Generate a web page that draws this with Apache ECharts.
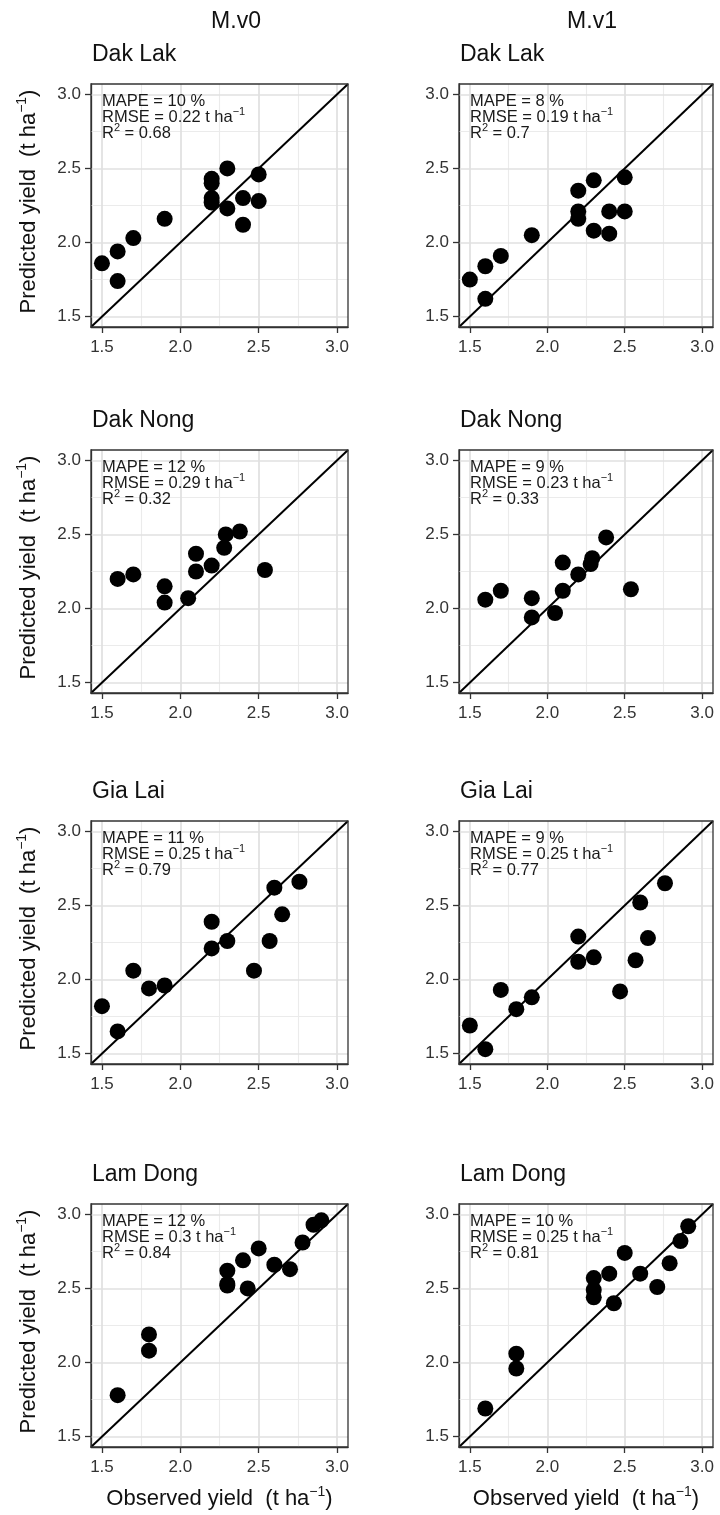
<!DOCTYPE html>
<html><head><meta charset="utf-8">
<script src="https://cdn.jsdelivr.net/npm/echarts@6/dist/echarts.min.js"></script>
<style>html,body{margin:0;padding:0;background:#fff}#c{width:720px;height:1515px}</style>
</head><body><div id="c"></div>
<script>
// ---------- data ----------
const provinces = ['Dak Lak', 'Dak Nong', 'Gia Lai', 'Lam Dong'];
const models = ['M.v0', 'M.v1'];
const tickValues = [1.5, 2.0, 2.5, 3.0];
const minorValues = [1.75, 2.25, 2.75];
const axisRange = [1.43, 3.07];

const dakLakV0Obs  = [1.5, 1.6, 1.6, 1.7, 1.9, 2.2, 2.2, 2.2, 2.2, 2.3, 2.3, 2.4, 2.4, 2.5, 2.5];
const dakLakV0Pred = [1.86, 1.94, 1.74, 2.03, 2.16, 2.43, 2.40, 2.30, 2.27, 2.50, 2.23, 2.30, 2.12, 2.46, 2.28];
const dakLakV1Obs  = [1.5, 1.6, 1.6, 1.7, 1.9, 2.2, 2.2, 2.2, 2.3, 2.3, 2.4, 2.4, 2.5, 2.5];
const dakLakV1Pred = [1.75, 1.84, 1.62, 1.91, 2.05, 2.35, 2.21, 2.16, 2.42, 2.08, 2.21, 2.06, 2.44, 2.21];

const dakNongV0Obs  = [1.6, 1.7, 1.9, 1.9, 2.05, 2.1, 2.1, 2.2, 2.28, 2.29, 2.38, 2.54];
const dakNongV0Pred = [2.20, 2.23, 2.15, 2.04, 2.07, 2.25, 2.37, 2.29, 2.41, 2.50, 2.52, 2.26];
const dakNongV1Obs  = [1.6, 1.7, 1.9, 1.9, 2.05, 2.1, 2.1, 2.2, 2.28, 2.29, 2.38, 2.54];
const dakNongV1Pred = [2.06, 2.12, 2.07, 1.94, 1.97, 2.31, 2.12, 2.23, 2.30, 2.34, 2.48, 2.13];

const giaLaiV0Obs  = [1.5, 1.6, 1.7, 1.8, 1.9, 2.2, 2.2, 2.3, 2.47, 2.57, 2.6, 2.65, 2.76];
const giaLaiV0Pred = [1.82, 1.65, 2.06, 1.94, 1.96, 2.39, 2.21, 2.26, 2.06, 2.26, 2.62, 2.44, 2.66];
const giaLaiV1Obs  = [1.5, 1.6, 1.7, 1.8, 1.9, 2.2, 2.2, 2.3, 2.47, 2.57, 2.6, 2.65, 2.76];
const giaLaiV1Pred = [1.69, 1.53, 1.93, 1.80, 1.88, 2.29, 2.12, 2.15, 1.92, 2.13, 2.52, 2.28, 2.65];

const lamDongV0Obs  = [1.6, 1.8, 1.8, 2.3, 2.3, 2.3, 2.4, 2.43, 2.5, 2.6, 2.7, 2.78, 2.85, 2.9];
const lamDongV0Pred = [1.78, 2.19, 2.08, 2.62, 2.53, 2.52, 2.69, 2.50, 2.77, 2.66, 2.63, 2.81, 2.93, 2.96];
const lamDongV1Obs  = [1.6, 1.8, 1.8, 2.3, 2.3, 2.3, 2.4, 2.43, 2.5, 2.6, 2.71, 2.79, 2.86, 2.91];
const lamDongV1Pred = [1.69, 2.06, 1.96, 2.57, 2.49, 2.44, 2.60, 2.40, 2.74, 2.60, 2.51, 2.67, 2.82, 2.92];

const mapeV0 = ['10', '12', '11', '12'];
const rmseV0 = ['0.22', '0.29', '0.25', '0.3'];
const r2V0   = ['0.68', '0.32', '0.79', '0.84'];
const mapeV1 = ['8', '9', '9', '10'];
const rmseV1 = ['0.19', '0.23', '0.25', '0.25'];
const r2V1   = ['0.7', '0.33', '0.77', '0.81'];

// ---------- assembly ----------
const obsTable = [[dakLakV0Obs, dakLakV1Obs], [dakNongV0Obs, dakNongV1Obs], [giaLaiV0Obs, giaLaiV1Obs], [lamDongV0Obs, lamDongV1Obs]];
const predTable = [[dakLakV0Pred, dakLakV1Pred], [dakNongV0Pred, dakNongV1Pred], [giaLaiV0Pred, giaLaiV1Pred], [lamDongV0Pred, lamDongV1Pred]];
const statTable = [[mapeV0, rmseV0, r2V0], [mapeV1, rmseV1, r2V1]];

const colLeft = [91, 459];
const colWidth = [257, 254];
const rowTop = [84, 450, 821, 1204];
const rowHeight = 243;
const FONT = '"Liberation Sans", Arial, Helvetica, sans-serif';

const grids = [], xAxes = [], yAxes = [], series = [], graphics = [];
const fmt = v => Number(v).toFixed(1);
const supRich = (size, raise) => ({ sup: { fontSize: size, fontFamily: FONT, fill: '#1a1a1a', padding: [0, 0, raise, 0] } });

models.forEach((m, c) => {
  graphics.push({ type: 'text', x: c === 0 ? 236 : 592, y: 22,
    style: { text: m, fontSize: 23, fontFamily: FONT, fill: '#111', align: 'center', verticalAlign: 'middle' } });
});

provinces.forEach((p, r) => {
  models.forEach((m, c) => {
    const idx = grids.length;
    const left = colLeft[c], top = rowTop[r], w = colWidth[c], h = rowHeight;
    grids.push({ left: left, top: top, width: w, height: h, show: false });
    const axisCommon = {
      gridIndex: idx, type: 'value', min: axisRange[0], max: axisRange[1],
      splitLine: { show: false },
      axisLine: { show: true, onZero: false, lineStyle: { color: '#333', width: 1.3 } },
      axisTick: { show: true, customValues: tickValues, length: 6, lineStyle: { color: '#333', width: 1.3 } },
    };
    xAxes.push(Object.assign({}, axisCommon, {
      axisLabel: { customValues: tickValues, formatter: fmt, fontSize: 17, fontFamily: FONT, color: '#333', margin: 12 }
    }));
    yAxes.push(Object.assign({}, axisCommon, {
      axisLabel: { customValues: tickValues, formatter: fmt, fontSize: 17, fontFamily: FONT, color: '#333', margin: 10 }
    }));
    const lineSeg = vals => vals.flatMap(v => [
      { coords: [[v, axisRange[0]], [v, axisRange[1]]] },
      { coords: [[axisRange[0], v], [axisRange[1], v]] }
    ]);
    series.push({ type: 'lines', coordinateSystem: 'cartesian2d', xAxisIndex: idx, yAxisIndex: idx,
      data: lineSeg(minorValues), lineStyle: { color: '#ebebeb', width: 1.1, opacity: 1 }, silent: true, z: 1, animation: false });
    series.push({ type: 'lines', coordinateSystem: 'cartesian2d', xAxisIndex: idx, yAxisIndex: idx,
      data: lineSeg(tickValues), lineStyle: { color: '#e0e0e0', width: 1.7, opacity: 1 }, silent: true, z: 1, animation: false });
    series.push({ type: 'lines', coordinateSystem: 'cartesian2d', xAxisIndex: idx, yAxisIndex: idx,
      data: [{ coords: [[axisRange[0], axisRange[0]], [axisRange[1], axisRange[1]]] }],
      lineStyle: { color: '#000', width: 2, opacity: 1 }, silent: true, z: 3, animation: false });
    const ob = obsTable[r][c], pr = predTable[r][c];
    series.push({ type: 'scatter', xAxisIndex: idx, yAxisIndex: idx, symbol: 'circle', symbolSize: 16,
      data: ob.map((x, i) => [x, pr[i]]), itemStyle: { color: '#000', opacity: 1 }, z: 4, animation: false });

    // border
    graphics.push({ type: 'rect', shape: { x: left, y: top, width: w, height: h },
      style: { fill: 'none', stroke: '#333', lineWidth: 1.3 }, z: 100, silent: true });
    // panel title
    graphics.push({ type: 'text', x: left + 1, y: top - 29,
      style: { text: p, fontSize: 23, fontFamily: FONT, fill: '#111', align: 'left', verticalAlign: 'middle' } });
    // annotations
    const st = statTable[c];
    const ann = [
      'MAPE = ' + st[0][r] + ' %',
      'RMSE = ' + st[1][r] + ' t ha{sup|\u22121}',
      'R{sup|2} = ' + st[2][r]
    ];
    ann.forEach((t, k) => {
      graphics.push({ type: 'text', x: left + 11, y: top + 17 + 16 * k, z: 50,
        style: { text: t, fontSize: 16.5, fontFamily: FONT, fill: '#1a1a1a', align: 'left', verticalAlign: 'middle', rich: supRich(11, 10) } });
    });
    // y axis title (left column only)
    if (c === 0) {
      graphics.push({ type: 'text', x: 29, y: top + h / 2 - 4, rotation: Math.PI / 2,
        style: { text: 'Predicted yield  (t ha{sup|\u22121})', fontSize: 22, fontFamily: FONT, fill: '#111', align: 'center', verticalAlign: 'middle', rich: supRich(14, 14) } });
    }
    // x axis title (bottom row only)
    if (r === provinces.length - 1) {
      graphics.push({ type: 'text', x: left + w / 2, y: 1499,
        style: { text: 'Observed yield  (t ha{sup|\u22121})', fontSize: 22, fontFamily: FONT, fill: '#111', align: 'center', verticalAlign: 'middle', rich: supRich(14, 14) } });
    }
  });
});

const chart = echarts.init(document.getElementById('c'), null, { renderer: 'canvas' });
chart.setOption({
  backgroundColor: '#fff',
  animation: false,
  grid: grids, xAxis: xAxes, yAxis: yAxes, series: series, graphic: graphics
});
</script></body></html>
